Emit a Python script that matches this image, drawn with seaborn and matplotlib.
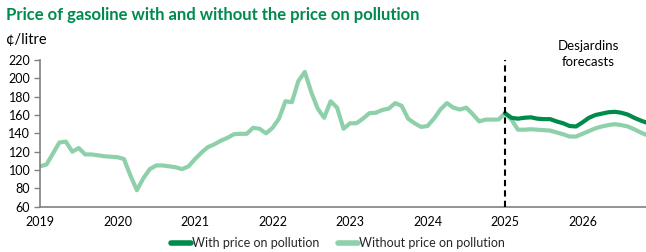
import numpy as np
import pandas as pd
import matplotlib
matplotlib.use("Agg")
import matplotlib.pyplot as plt
import seaborn as sns
from matplotlib.lines import Line2D

# Monthly data, Jan 2019 - Dec 2026 (¢/litre)
without_price = [
    # 2019
    104, 106, 118, 130, 131, 120, 124, 117, 117, 116, 115, 114.5,
    # 2020
    114, 112, 94, 78, 91, 101, 105, 105, 104, 103, 101, 104,
    # 2021
    112, 119, 125, 128, 132, 135, 139, 139.5, 139.5, 146, 145, 140,
    # 2022
    146, 156, 175, 174, 197, 207, 185, 167, 157, 175, 168, 145,
    # 2023
    151, 151, 156, 162, 162.5, 165.5, 167, 173, 170, 156, 151, 147,
    # 2024
    148, 156, 166, 173, 168, 166, 168, 161, 153, 155, 155, 155,
    # 2025 (forecast)
    162, 155, 144, 144, 144.5, 144, 143.5, 143, 141, 139, 136.5, 136.5,
    # 2026 (forecast)
    139.5, 142.5, 145.5, 147.5, 149, 150, 149, 147.5, 144.5, 141, 138, 136,
]
with_price = [
    # 2025
    162, 157, 156, 157, 157.5, 156, 155.5, 155.5, 153, 151, 148, 147.5,
    # 2026
    152, 157, 160, 161.5, 163, 163.5, 162.5, 160.5, 157, 154, 151.5, 149,
]
start_year = 2019
forecast_start = 2025
year_ticks = [2019, 2020, 2021, 2022, 2023, 2024, 2025, 2026]
y_ticks = list(range(60, 221, 20))

months_all = start_year + np.arange(len(without_price)) / 12
months_fc = forecast_start + np.arange(len(with_price)) / 12

lab_with = "With price on pollution"
lab_without = "Without price on pollution"
df = pd.concat([
    pd.DataFrame({"date": months_all, "price": without_price, "series": lab_without}),
    pd.DataFrame({"date": months_fc, "price": with_price, "series": lab_with}),
])

sns.set_theme(style="white")
plt.rcParams["font.family"] = ["Lato", "DejaVu Sans"]

dark = "#008A4B"
light = "#8ED0AA"

fig = plt.figure(figsize=(6.46, 2.52), dpi=100)
ax = fig.add_axes([40 / 646, 1 - 206.7 / 252, 1 - 40 / 646, (206.7 - 60) / 252])

sns.lineplot(data=df, x="date", y="price", hue="series",
             hue_order=[lab_without, lab_with],
             palette={lab_with: dark, lab_without: light},
             linewidth=3.0, ax=ax, legend=False)
for ln in ax.lines:
    if matplotlib.colors.to_hex(ln.get_color()).lower() == dark.lower():
        ln.set_zorder(3)

ax.axvline(forecast_start, color="black", linestyle=(0, (3, 2)), linewidth=1.5, zorder=4)

ax.set_xlim(start_year, start_year + (646 - 40) / 77.5)
ax.set_ylim(60, 220)
ax.set_yticks(y_ticks)
ax.set_xticks(year_ticks)
ax.set_xticklabels([str(y) for y in year_ticks])
ax.set_xlabel("")
ax.set_ylabel("")

for s in ["top", "right"]:
    ax.spines[s].set_visible(False)
for s in ["left", "bottom"]:
    ax.spines[s].set_color("#808080")
    ax.spines[s].set_linewidth(1.2)

ax.tick_params(axis="y", direction="out", length=4, width=1, color="#808080",
               labelsize=9, pad=3, left=True, labelcolor="black")
ax.tick_params(axis="x", length=0, labelsize=9, pad=7, labelcolor="black")
ax.grid(False)

fig.text(6 / 646, 1 - 15 / 252, "Price of gasoline with and without the price on pollution",
         color=dark, fontsize=12, fontweight="bold", va="center", ha="left")
fig.text(6 / 646, 1 - 40 / 252, "¢/litre", color="black", fontsize=10.5, va="center", ha="left")
ax.text(588 / 646, 1 - 54 / 252, "Desjardins\nforecasts", transform=fig.transFigure,
        ha="center", va="center", fontsize=9.5, linespacing=1.4, color="black")

handles = [Line2D([], [], color=dark, linewidth=4), Line2D([], [], color=light, linewidth=4)]
fig.legend(handles, [lab_with, lab_without], loc="center", bbox_to_anchor=(338 / 646, 1 - 243 / 252),
           ncol=2, frameon=False, fontsize=9, handlelength=1.6, handletextpad=0.1,
           columnspacing=1.5, borderaxespad=0)

fig.savefig("out.png", dpi=100)
